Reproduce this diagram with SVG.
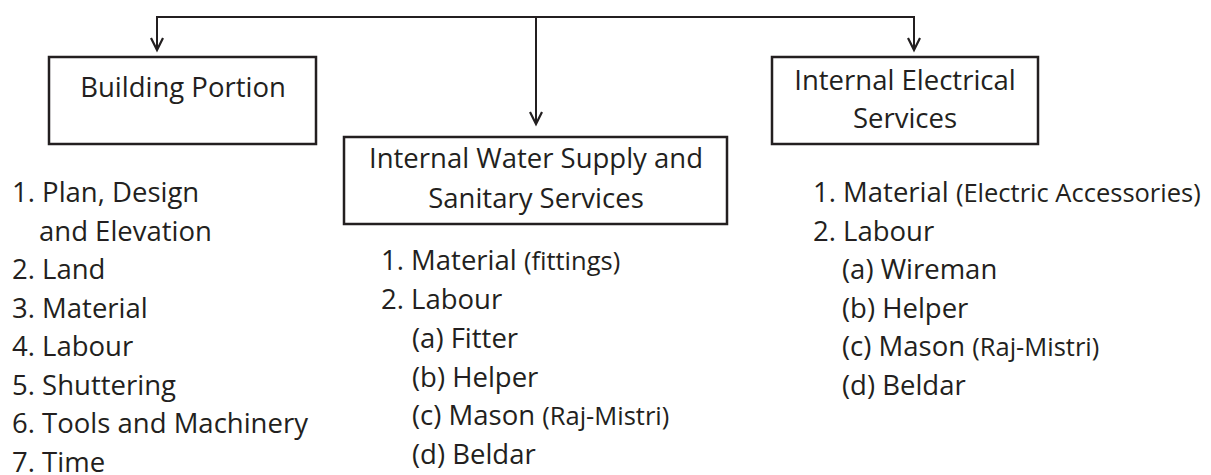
<svg xmlns="http://www.w3.org/2000/svg" width="1211" height="475" viewBox="0 0 1211 475">
<style>
.box{fill:#fff;stroke:#231f20;stroke-width:2.5}
.ln{fill:none;stroke:#231f20;stroke-width:2;stroke-linejoin:miter}
.ah{fill:none;stroke:#231f20;stroke-width:2.2;stroke-linejoin:miter}
text{font-family:"Open Sans","Noto Sans",sans-serif;font-size:27.5px;fill:#231f20}
.c{text-anchor:middle}
.s{font-size:25.5px}
</style>
<rect width="1211" height="475" fill="#fff"/>
<g id="connectors">
<path class="ln" d="M157,50 V17 H914 V50 M536,17 V124"/>
<path class="ah" d="M151,38 L157,50 L163,38"/>
<path class="ah" d="M530,112 L536,124 L542,112"/>
<path class="ah" d="M908,38 L914,50 L920,38"/>
</g>
<g id="building">
<rect class="box" x="49" y="57" width="267" height="87"/>
<text class="c" x="183" y="97">Building Portion</text>
</g>
<g id="water">
<rect class="box" x="344" y="137" width="383" height="87"/>
<text class="c" x="536" y="168">Internal Water Supply and</text>
<text class="c" x="536" y="208">Sanitary Services</text>
</g>
<g id="electrical">
<rect class="box" x="772" y="57" width="266" height="87"/>
<text class="c" x="905" y="90">Internal Electrical</text>
<text class="c" x="905" y="128">Services</text>
</g>
<g id="building-list">
<text x="12" y="202">1. Plan, Design</text>
<text x="39" y="240.5">and Elevation</text>
<text x="12" y="279">2. Land</text>
<text x="12" y="317.5">3. Material</text>
<text x="12" y="356">4. Labour</text>
<text x="12" y="394.5">5. Shuttering</text>
<text x="12" y="433">6. Tools and Machinery</text>
<text x="12" y="471.5">7. Time</text>
</g>
<g id="water-list">
<text x="381" y="270">1. Material <tspan class="s">(fittings)</tspan></text>
<text x="381" y="309">2. Labour</text>
<text x="412" y="348">(a) Fitter</text>
<text x="412" y="386.5">(b) Helper</text>
<text x="412" y="425">(c) Mason <tspan class="s">(Raj-Mistri)</tspan></text>
<text x="412" y="463.5">(d) Beldar</text>
</g>
<g id="electrical-list">
<text x="813" y="202">1. Material <tspan class="s">(Electric Accessories)</tspan></text>
<text x="813" y="240.5">2. Labour</text>
<text x="842" y="279">(a) Wireman</text>
<text x="842" y="317.5">(b) Helper</text>
<text x="842" y="356">(c) Mason <tspan class="s">(Raj-Mistri)</tspan></text>
<text x="842" y="394.5">(d) Beldar</text>
</g>
</svg>
